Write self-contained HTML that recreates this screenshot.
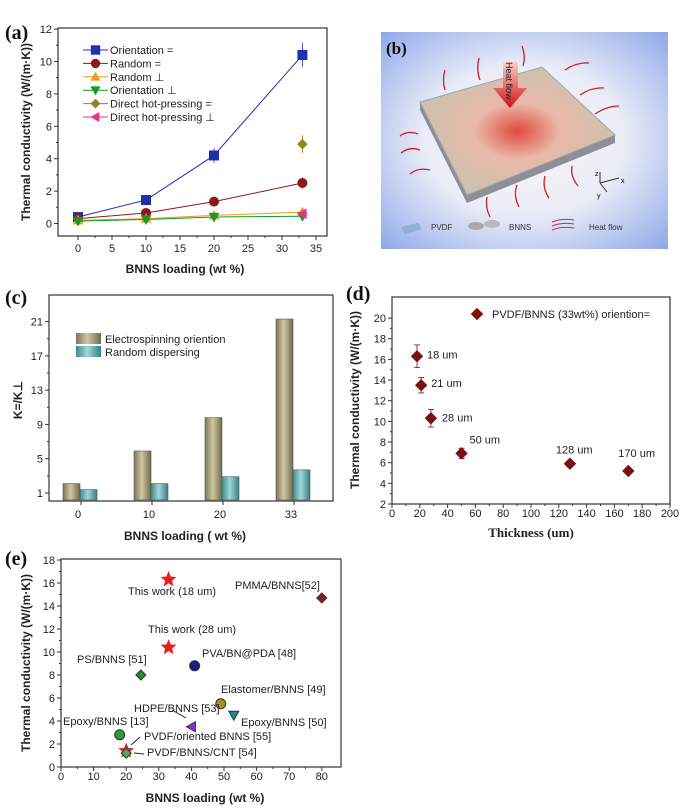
<!DOCTYPE html>
<html><head><meta charset="utf-8"><style>
html,body{margin:0;padding:0;background:#fff}
svg{display:block;font-family:"Liberation Sans",Arial,sans-serif}
.t{font-size:11px;fill:#222}
.ti{font-size:12px;font-weight:bold;fill:#222}
.pl{font-family:"Liberation Serif",serif;font-size:20px;font-weight:bold;fill:#111}
</style></head><body>
<svg id="fig" width="700" height="809" viewBox="0 0 700 809" xmlns="http://www.w3.org/2000/svg">
<defs>
<linearGradient id="gk" x1="0" x2="1"><stop offset="0" stop-color="#7d7657"/><stop offset="0.45" stop-color="#cfc8a2"/><stop offset="1" stop-color="#6f6a4c"/></linearGradient>
<linearGradient id="gt" x1="0" x2="1"><stop offset="0" stop-color="#3f8a8c"/><stop offset="0.45" stop-color="#9fd8d8"/><stop offset="1" stop-color="#3a7f82"/></linearGradient>
<radialGradient id="bg" cx="0.5" cy="0.5" r="0.7"><stop offset="0" stop-color="#fff6f4"/><stop offset="0.5" stop-color="#e9ecf8"/><stop offset="1" stop-color="#8fa9e8"/></radialGradient>
<radialGradient id="slab" cx="0.5" cy="0.5" r="0.55"><stop offset="0" stop-color="#e04a3f"/><stop offset="0.4" stop-color="#e9b9a8"/><stop offset="1" stop-color="#c9c2b0"/></radialGradient>
<linearGradient id="arr" x1="0" y1="0" x2="0" y2="1"><stop offset="0" stop-color="#ffd0c8"/><stop offset="1" stop-color="#d01010"/></linearGradient>
</defs>

<!-- Panel b illustration -->
<g>
<rect x="381" y="32" width="287" height="217" fill="url(#bg)"/>
<polygon points="420,102 542,67 615,135 615,143 467,203 420,110" fill="#8d8f96"/>
<polygon points="420,102 542,67 615,135 467,195" fill="url(#slab)" stroke="#9aa" stroke-width="1"/>
<polygon points="503,62 518,62 518,88 527,88 510,108 493,88 503,88" fill="url(#arr)"/>
<text x="0" y="0" transform="translate(506,62) rotate(90)" style="font-size:9px;fill:#223">Heat flow</text>
<g stroke="#d02020" stroke-width="1.3" fill="none">
<path d="M445,90 q-3,-10 0,-20"/><path d="M480,80 q-4,-10 -1,-22"/><path d="M523,66 q3,-10 -1,-20"/>
<path d="M565,70 q12,-8 24,-7"/><path d="M580,95 q12,-8 24,-7"/><path d="M595,114 q12,-8 24,-8"/>
<path d="M418,134 q-10,-4 -18,2"/><path d="M420,150 q-10,-4 -19,3"/><path d="M430,170 q-12,-3 -20,4"/>
<path d="M517,185 q-4,10 2,22"/><path d="M545,176 q-3,12 4,22"/><path d="M572,166 q-2,10 6,20"/><path d="M487,197 q-2,10 3,20"/>
</g>
<g stroke="#333" stroke-width="1"><line x1="600" y1="183" x2="600" y2="172"/><line x1="600" y1="183" x2="619" y2="178"/><line x1="600" y1="183" x2="607" y2="192"/></g>
<text x="595" y="176" style="font-size:7px">z</text><text x="621" y="183" style="font-size:7px">x</text><text x="597" y="198" style="font-size:7px">y</text>
<polygon points="401,227 418,223 422,229 405,234" fill="#8fb0d8"/>
<text x="431" y="230" style="font-size:8px;fill:#333">PVDF</text>
<ellipse cx="476" cy="226" rx="8" ry="4" fill="#aaa"/><ellipse cx="492" cy="224" rx="8" ry="4" fill="#bbb"/>
<text x="509" y="230" style="font-size:8px;fill:#333">BNNS</text>
<g stroke="#c03050" stroke-width="1" fill="none"><path d="M552,222 q10,-4 22,-2"/><path d="M552,226 q10,-4 22,-2"/><path d="M552,230 q10,-4 22,-2"/></g>
<text x="589" y="230" style="font-size:8px;fill:#333">Heat flow</text>
<text x="386" y="54" class="pl" style="font-size:17px">(b)</text>
</g>

<text x="5" y="39" class="pl">(a)</text>
<text x="5" y="304" class="pl">(c)</text>
<text x="346" y="300" class="pl">(d)</text>
<text x="5" y="565" class="pl">(e)</text>

<g id="pa"></g>
<g id="pc"></g>
<g id="pd"></g>
<g id="pe"></g>
</svg>
<script>
// ---- Panel a data
const aX = [0, 10, 20, 33];
const aOrientPar = [0.4, 1.45, 4.2, 10.4];
const aRandomPar = [0.3, 0.65, 1.35, 2.5];
const aRandomPerp = [0.2, 0.3, 0.5, 0.7];
const aOrientPerp = [0.15, 0.25, 0.4, 0.45];
const aDirectParX = [33], aDirectPar = [4.9];
const aDirectPerpX = [33], aDirectPerp = [0.6];
const aXTicks = [0, 5, 10, 15, 20, 25, 30, 35];
const aYTicks = [0, 2, 4, 6, 8, 10, 12];
// ---- Panel c data
const cCats = ["0", "10", "20", "33"];
const cElectro = [2.1, 5.9, 9.8, 21.3];
const cRandom = [1.4, 2.1, 2.9, 3.7];
const cYTicks = [1, 5, 9, 13, 17, 21];
// ---- Panel d data
const dThick = [18, 21, 28, 50, 128, 170];
const dK = [16.3, 13.5, 10.3, 6.9, 5.9, 5.2];
const dErr = [1.1, 0.75, 0.85, 0.5, 0.3, 0.3];
const dLabels = ["18 um", "21 um", "28 um", "50 um", "128 um", "170 um"];
const dXTicks = [0, 20, 40, 60, 80, 100, 120, 140, 160, 180, 200];
const dYTicks = [2, 4, 6, 8, 10, 12, 14, 16, 18, 20];
// ---- Panel e data
const eNames = ["This work (18 um)", "This work (28 um)", "PMMA/BNNS[52]", "PVA/BN@PDA [48]", "PS/BNNS [51]", "Elastomer/BNNS [49]", "Epoxy/BNNS [50]", "HDPE/BNNS [53]", "Epoxy/BNNS [13]", "PVDF/oriented BNNS [55]", "PVDF/BNNS/CNT [54]"];
const eLoad = [33, 33, 80, 41, 24.5, 49, 53, 40, 18, 20, 20];
const eK = [16.3, 10.4, 14.7, 8.8, 8.0, 5.5, 4.5, 3.5, 2.8, 1.4, 1.2];
const eXTicks = [0, 10, 20, 30, 40, 50, 60, 70, 80];
const eYTicks = [0, 2, 4, 6, 8, 10, 12, 14, 16, 18];

const NS = "http://www.w3.org/2000/svg";
function mk(parent, tag, attrs, text) {
  const e = document.createElementNS(NS, tag);
  for (const k in attrs) e.setAttribute(k, attrs[k]);
  if (text !== undefined) e.textContent = text;
  parent.appendChild(e);
  return e;
}
function frame(g, L, T, R, B) {
  const r = mk(g, "rect", {x: L, y: T, width: R - L, height: B - T, fill: "none", stroke: "#333", "stroke-width": 1.2});
  
  
}
function xTicks(g, ticks, sx, B, ty, minor) {
  ticks.forEach((t, i) => {
    mk(g, "line", {x1: sx(t), y1: B, x2: sx(t), y2: B + 4, stroke: "#333"});
    const tx = mk(g, "text", {x: sx(t), y: ty, "text-anchor": "middle", class: "t"}, t);
    
    
    if (minor && i < ticks.length - 1) {
      const m = (t + ticks[i + 1]) / 2;
      mk(g, "line", {x1: sx(m), y1: B, x2: sx(m), y2: B + 2, stroke: "#333"});
    }
  });
}
function yTicks(g, ticks, sy, L, minor) {
  ticks.forEach((t, i) => {
    mk(g, "line", {x1: L - 4, y1: sy(t), x2: L, y2: sy(t), stroke: "#333"});
    const tx = mk(g, "text", {x: L - 6, y: sy(t) + 4, "text-anchor": "end", class: "t"}, t);
    
    
    if (minor && i < ticks.length - 1) {
      const m = (t + ticks[i + 1]) / 2;
      mk(g, "line", {x1: L - 2, y1: sy(m), x2: L, y2: sy(m), stroke: "#333"});
    }
  });
}
function title(g, x, y, txt, rot, name, cls) {
  const t = mk(g, "text", {x: x, y: y, "text-anchor": "middle", class: cls || "ti"}, txt);
  if (rot) t.setAttribute("transform", "rotate(-90 " + x + " " + y + ")");
  
  
}
function marker(g, shape, x, y, s, fill, stroke) {
  let e;
  if (shape === "sq") e = mk(g, "rect", {x: x - s, y: y - s, width: 2 * s, height: 2 * s});
  else if (shape === "ci") e = mk(g, "circle", {cx: x, cy: y, r: s});
  else if (shape === "tu") e = mk(g, "polygon", {points: `${x},${y - s} ${x + s},${y + s * 0.8} ${x - s},${y + s * 0.8}`});
  else if (shape === "td") e = mk(g, "polygon", {points: `${x},${y + s} ${x + s},${y - s * 0.8} ${x - s},${y - s * 0.8}`});
  else if (shape === "tl") e = mk(g, "polygon", {points: `${x - s},${y} ${x + s * 0.8},${y - s} ${x + s * 0.8},${y + s}`});
  else if (shape === "di") e = mk(g, "polygon", {points: `${x},${y - s} ${x + s},${y} ${x},${y + s} ${x - s},${y}`});
  else if (shape === "st") {
    let p = [];
    for (let i = 0; i < 10; i++) { const r = i % 2 ? s * 0.45 : s; const a = -Math.PI / 2 + i * Math.PI / 5; p.push((x + r * Math.cos(a)).toFixed(1) + "," + (y + r * Math.sin(a)).toFixed(1)); }
    e = mk(g, "polygon", {points: p.join(" ")});
  }
  e.setAttribute("fill", fill);
  e.setAttribute("stroke", stroke || fill);
  return e;
}

// ===== Panel a
(function () {
  const g = document.getElementById("pa");
  const L = 58, R = 327, T = 28, B = 236;
  const sx = v => 78 + v * 6.8, sy = v => 223.5 - v * 16.2;
  frame(g, L, T, R, B);
  xTicks(g, aXTicks, sx, B, 252, true);
  yTicks(g, aYTicks, sy, L, true);
  title(g, 185, 273, "BNNS loading (wt %)", false, "x-axis-title");
  title(g, 30, 132, "Thermal conductivity (W/(m·K))", true, "y-axis-title");
  const series = [
    {n: "Orientation =", x: aX, y: aOrientPar, c: "#1f2fb0", s: "sq", e: [0.1, 0.15, 0.45, 0.75]},
    {n: "Random =", x: aX, y: aRandomPar, c: "#8b1a1a", s: "ci", e: [0.05, 0.1, 0.3, 0.35]},
    {n: "Random ⊥", x: aX, y: aRandomPerp, c: "#f39a1b", s: "tu", e: [0, 0, 0.1, 0.1]},
    {n: "Orientation ⊥", x: aX, y: aOrientPerp, c: "#169a26", s: "td", e: [0, 0, 0.1, 0.1]},
    {n: "Direct hot-pressing =", x: aDirectParX, y: aDirectPar, c: "#8a8a14", s: "di", e: [0.55]},
    {n: "Direct hot-pressing ⊥", x: aDirectPerpX, y: aDirectPerp, c: "#ec2d9b", s: "tl", e: [0.1]}
  ];
  series.forEach((se, k) => {
    const sg = mk(g, "g", {});
    
    
    if (se.x.length > 1) {
      const pts = se.x.map((x, i) => sx(x) + "," + sy(se.y[i])).join(" ");
      mk(sg, "polyline", {points: pts, fill: "none", stroke: se.c, "stroke-width": 1});
    }
    se.x.forEach((x, i) => {
      const er = se.e[i] || 0;
      if (er) mk(sg, "line", {x1: sx(x), y1: sy(se.y[i] - er), x2: sx(x), y2: sy(se.y[i] + er), stroke: se.c, "stroke-width": 0.8});
      const m = marker(sg, se.s, sx(x), sy(se.y[i]), 4.5, se.c);
      
      
    });
    const ly = 50 + k * 13.4;
    const lg = mk(g, "g", {});
    
    
    mk(lg, "line", {x1: 83, y1: ly, x2: 108, y2: ly, stroke: se.c, "stroke-width": 1});
    marker(lg, se.s, 95.5, ly, 4.2, se.c);
    mk(lg, "text", {x: 110, y: ly + 4, class: "t"}, se.n);
  });
})();

// ===== Panel c
(function () {
  const g = document.getElementById("pc");
  const L = 49, R = 333, T = 295, B = 501;
  const sy = v => 493 - (v - 1) * 8.57;
  const cx = i => 81 + i * 71;
  frame(g, L, T, R, B);
  yTicks(g, cYTicks, sy, L, true);
  cCats.forEach((c, i) => {
    mk(g, "line", {x1: cx(i), y1: B, x2: cx(i), y2: B + 4, stroke: "#333"});
    const t = mk(g, "text", {x: cx(i) - 3, y: 518, "text-anchor": "middle", class: "t"}, c);
    
    
  });
  const w = 17;
  cCats.forEach((c, i) => {
    const b1 = mk(g, "rect", {x: cx(i) - w - 1, y: sy(cElectro[i]), width: w, height: B - 1 - sy(cElectro[i]), fill: "url(#gk)", stroke: "#555", "stroke-width": 0.6});
    
    
    const b2 = mk(g, "rect", {x: cx(i) - 1, y: sy(cRandom[i]), width: w, height: B - 1 - sy(cRandom[i]), fill: "url(#gt)", stroke: "#555", "stroke-width": 0.6});
    
    
  });
  const l1 = mk(g, "g", {});  
  mk(l1, "rect", {x: 76, y: 333, width: 25, height: 11, fill: "url(#gk)"});
  mk(l1, "text", {x: 105, y: 343, class: "t"}, "Electrospinning oriention");
  const l2 = mk(g, "g", {});  
  mk(l2, "rect", {x: 76, y: 346, width: 25, height: 11, fill: "url(#gt)"});
  mk(l2, "text", {x: 105, y: 356, class: "t"}, "Random dispersing");
  title(g, 185, 540, "BNNS loading ( wt %)", false, "x-axis-title");
  const yt = mk(g, "text", {x: 22, y: 400, "text-anchor": "middle", class: "ti", transform: "rotate(-90 22 400)"}, "K=/K⊥");
  
  
})();

// ===== Panel d
(function () {
  const g = document.getElementById("pd");
  const L = 392, R = 670, T = 297, B = 504;
  const sx = v => 392 + v * 1.39, sy = v => 504 - (v - 2) * 10.33;
  frame(g, L, T, R, B);
  xTicks(g, dXTicks, sx, B, 517, true);
  yTicks(g, dYTicks, sy, L, true);
  const xt = mk(g, "text", {x: 531, y: 537, "text-anchor": "middle", style: "font-family:'Liberation Serif',serif;font-size:13px;font-weight:bold;fill:#222"}, "Thickness (um)");
  
  
  title(g, 359, 400, "Thermal conductivity (W/(m·K))", true, "y-axis-title");
  const lx = [10, 10, 11, 8, -14, -10], ly = [2, 2, 3, -10, -10, -14];
  dThick.forEach((x, i) => {
    mk(g, "line", {x1: sx(x), y1: sy(dK[i] - dErr[i]), x2: sx(x), y2: sy(dK[i] + dErr[i]), stroke: "#7a1010", "stroke-width": 0.8});
    mk(g, "line", {x1: sx(x) - 3, y1: sy(dK[i] + dErr[i]), x2: sx(x) + 3, y2: sy(dK[i] + dErr[i]), stroke: "#7a1010", "stroke-width": 0.8});
    mk(g, "line", {x1: sx(x) - 3, y1: sy(dK[i] - dErr[i]), x2: sx(x) + 3, y2: sy(dK[i] - dErr[i]), stroke: "#7a1010", "stroke-width": 0.8});
    const m = marker(g, "di", sx(x), sy(dK[i]), 5.5, "#7a1010");
    
    
    const t = mk(g, "text", {x: sx(x) + lx[i], y: sy(dK[i]) + ly[i], class: "t"}, dLabels[i]);
    
    
  });
  const lg = mk(g, "g", {});  
  marker(lg, "di", 477, 314, 5.5, "#7a1010");
  mk(lg, "text", {x: 492, y: 318, class: "t"}, "PVDF/BNNS (33wt%) oriention=");
})();

// ===== Panel e
(function () {
  const g = document.getElementById("pe");
  const L = 61, R = 341, T = 559, B = 767;
  const sx = v => 61 + v * 3.26, sy = v => 767 - v * 11.5;
  frame(g, L, T, R, B);
  xTicks(g, eXTicks, sx, B, 780, true);
  yTicks(g, eYTicks, sy, L, true);
  title(g, 205, 802, "BNNS loading (wt %)", false, "x-axis-title");
  title(g, 30, 663, "Thermal conductivity (W/(m·K))", true, "y-axis-title");
  const shapes = ["st", "st", "di", "ci", "di", "ci", "td", "tl", "ci", "st", "di"];
  const cols = ["#ee1c1c", "#ee1c1c", "#8b1a1a", "#1a1a8b", "#1f8f2a", "#9a9a18", "#1a8f8f", "#8a2be2", "#2a9a3a", "#cc3333", "#5aa55a"];
  const lpos = [[128, 595], [148, 633], [235, 589], [202, 657], [77, 663], [221, 693], [241, 726], [134, 712], [63, 725], [144, 740], [147, 756]];
  eNames.forEach((n, i) => {
    const m = marker(g, shapes[i], sx(eLoad[i]), sy(eK[i]), shapes[i] === "st" ? 7 : 5, cols[i], "#333");
    if (shapes[i] === "st") m.setAttribute("stroke", cols[i]);
    
    
    const t = mk(g, "text", {x: lpos[i][0], y: lpos[i][1], class: "t"}, n);
    
    
  });
  mk(g, "line", {x1: 172, y1: 710, x2: 186, y2: 718, stroke: "#222"});
  mk(g, "line", {x1: 140, y1: 737, x2: 131, y2: 745, stroke: "#222"});
  mk(g, "line", {x1: 144, y1: 754, x2: 134, y2: 753, stroke: "#222"});
})();
</script>
</body></html>
